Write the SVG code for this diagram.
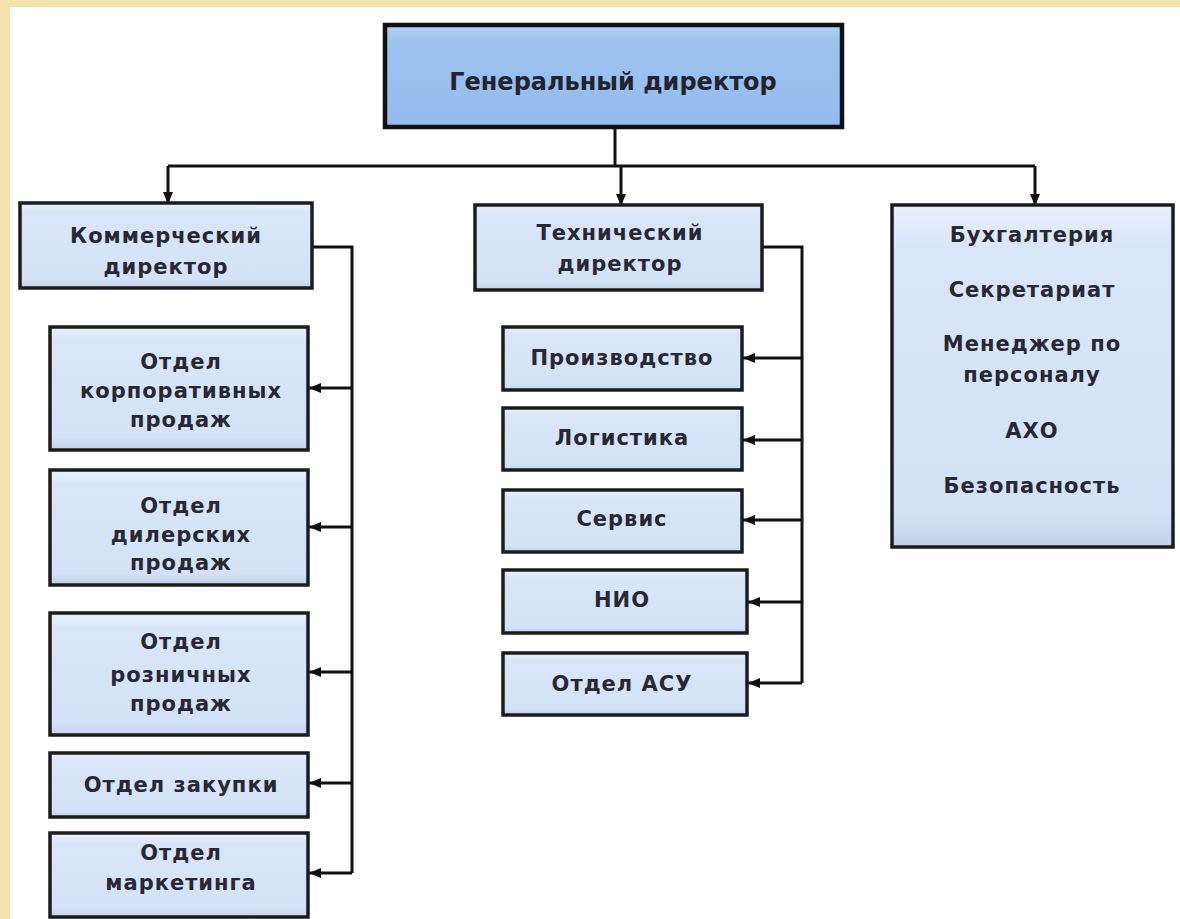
<svg xmlns="http://www.w3.org/2000/svg" width="1180" height="919" viewBox="0 0 1180 919">
<style>
.box{fill:url(#g);stroke:#1c1c1c;stroke-width:3.5}
.top{fill:url(#gt);stroke:#111;stroke-width:4.5}
.t{font-family:"DejaVu Sans",Verdana,sans-serif;font-weight:bold;font-size:21px;letter-spacing:1px;fill:#262833;text-anchor:middle}
.tt{font-family:"DejaVu Sans",Verdana,sans-serif;font-weight:bold;font-size:24px;fill:#1f2430;text-anchor:middle}
.c{fill:none;stroke:#111;stroke-width:3}
</style>
<defs>
<linearGradient id="g" x1="0" y1="0" x2="0" y2="1">
<stop offset="0" stop-color="#e8f0fb"/>
<stop offset="0.12" stop-color="#d9e6f8"/>
<stop offset="0.9" stop-color="#d3e2f6"/>
<stop offset="1" stop-color="#c0d1ea"/>
</linearGradient>
<linearGradient id="gt" x1="0" y1="0" x2="0" y2="1">
<stop offset="0" stop-color="#b3d0f3"/>
<stop offset="0.15" stop-color="#9fc3ef"/>
<stop offset="1" stop-color="#93bbec"/>
</linearGradient>
<marker id="a" markerUnits="userSpaceOnUse" markerWidth="13" markerHeight="12" refX="12" refY="6" orient="auto">
<path d="M0,1 L12,6 L0,11 z" fill="#111"/>
</marker>
</defs>
<rect x="0" y="0" width="1180" height="919" fill="#f6e2ae"/>
<rect x="10" y="7" width="1170" height="912" fill="#ffffff"/>
<g id="connectors">
<path class="c" d="M615,127 V166"/>
<path class="c" d="M168,166 H1035"/>
<path class="c" d="M168,166 V204" marker-end="url(#a)"/>
<path class="c" d="M621,166 V206" marker-end="url(#a)"/>
<path class="c" d="M1035,166 V206" marker-end="url(#a)"/>
<path class="c" d="M312,247 H352 V873"/>
<path class="c" d="M352,388 H309" marker-end="url(#a)"/>
<path class="c" d="M352,527 H309" marker-end="url(#a)"/>
<path class="c" d="M352,672 H309" marker-end="url(#a)"/>
<path class="c" d="M352,783 H309" marker-end="url(#a)"/>
<path class="c" d="M352,873 H309" marker-end="url(#a)"/>
<path class="c" d="M762,247 H802 V683"/>
<path class="c" d="M802,358 H743" marker-end="url(#a)"/>
<path class="c" d="M802,440 H743" marker-end="url(#a)"/>
<path class="c" d="M802,520 H743" marker-end="url(#a)"/>
<path class="c" d="M802,602 H748" marker-end="url(#a)"/>
<path class="c" d="M802,683 H748" marker-end="url(#a)"/>
</g>
<g id="gen"><rect class="top" x="385" y="25" width="457" height="102"/><text class="tt" x="613" y="90">Генеральный директор</text></g>
<g id="com"><rect class="box" x="20" y="203" width="292" height="85"/><text class="t" x="166" y="243">Коммерческий</text><text class="t" x="166" y="274">директор</text></g>
<g id="tech"><rect class="box" x="475" y="205" width="287" height="85"/><text class="t" x="620" y="240">Технический</text><text class="t" x="620" y="271">директор</text></g>
<g id="adm"><rect class="box" x="892" y="205" width="281" height="342"/>
<text class="t" x="1032" y="242">Бухгалтерия</text>
<text class="t" x="1032" y="297">Секретариат</text>
<text class="t" x="1032" y="351">Менеджер по</text>
<text class="t" x="1032" y="382">персоналу</text>
<text class="t" x="1032" y="438">АХО</text>
<text class="t" x="1032" y="493">Безопасность</text></g>
<g id="l1"><rect class="box" x="50" y="327" width="258" height="123"/><text class="t" x="181" y="369">Отдел</text><text class="t" x="181" y="398">корпоративных</text><text class="t" x="181" y="427">продаж</text></g>
<g id="l2"><rect class="box" x="50" y="470" width="258" height="115"/><text class="t" x="181" y="513">Отдел</text><text class="t" x="181" y="542">дилерских</text><text class="t" x="181" y="570">продаж</text></g>
<g id="l3"><rect class="box" x="50" y="613" width="258" height="122"/><text class="t" x="181" y="649">Отдел</text><text class="t" x="181" y="682">розничных</text><text class="t" x="181" y="711">продаж</text></g>
<g id="l4"><rect class="box" x="50" y="753" width="258" height="64"/><text class="t" x="181" y="792">Отдел закупки</text></g>
<g id="l5"><rect class="box" x="50" y="833" width="258" height="84"/><text class="t" x="181" y="860">Отдел</text><text class="t" x="181" y="890">маркетинга</text></g>
<g id="t1"><rect class="box" x="503" y="327" width="239" height="63"/><text class="t" x="622" y="365">Производство</text></g>
<g id="t2"><rect class="box" x="503" y="408" width="239" height="62"/><text class="t" x="622" y="445">Логистика</text></g>
<g id="t3"><rect class="box" x="503" y="490" width="239" height="62"/><text class="t" x="622" y="526">Сервис</text></g>
<g id="t4"><rect class="box" x="503" y="570" width="244" height="63"/><text class="t" x="622" y="607">НИО</text></g>
<g id="t5"><rect class="box" x="503" y="653" width="244" height="62"/><text class="t" x="622" y="691">Отдел АСУ</text></g>
</svg>
